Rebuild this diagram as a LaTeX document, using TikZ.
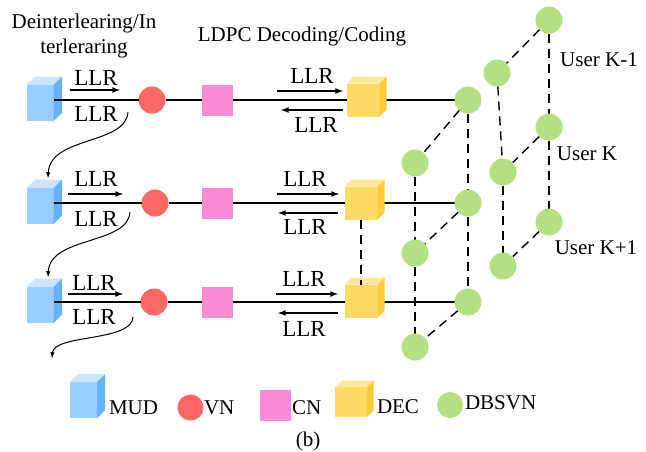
\documentclass[tikz,border=0pt]{standalone}
\usepackage{fontspec}
\setmainfont{Liberation Serif}
\usepackage{xcolor}
\usepackage{tikz}

\definecolor{mudfront}{HTML}{99CCFF}
\definecolor{mudside}{HTML}{66B2FF}
\definecolor{mudtop}{HTML}{CCE5FF}
\definecolor{vnred}{HTML}{FF6666}
\definecolor{cnpink}{HTML}{F98AD6}
\definecolor{decfront}{HTML}{FFD966}
\definecolor{decside}{HTML}{FFCC33}
\definecolor{dectop}{HTML}{FFE699}
\definecolor{dbsgreen}{HTML}{B3E083}

\pgfdeclarelayer{background}
\pgfsetlayers{background,main}

% top and side faces of a cube node
\newcommand{\cubefaces}[4]{%
  \fill[#3] (#1.north west) -- ([xshift=#2,yshift=#2]#1.north west)
    -- ([xshift=#2,yshift=#2]#1.north east) -- (#1.north east) -- cycle;
  \fill[#4] (#1.north east) -- ([xshift=#2,yshift=#2]#1.north east)
    -- ([xshift=#2,yshift=#2]#1.south east) -- (#1.south east) -- cycle;}

\begin{document}
\begin{tikzpicture}[
  x=1pt, y=-1pt,
  every node/.style={inner sep=0pt, outer sep=0pt, font=\fontsize{21}{24}\selectfont},
  llr/.style={font=\fontsize{23}{26}\selectfont},
  mud/.style={rectangle, fill=mudfront, minimum width=27pt, minimum height=36pt},
  vn/.style={circle, fill=vnred, minimum size=27pt},
  cn/.style={rectangle, fill=cnpink, minimum width=31pt, minimum height=31pt},
  dec/.style={rectangle, fill=decfront, minimum width=33pt, minimum height=33pt},
  dbs/.style={circle, fill=dbsgreen, minimum size=27pt},
  llrarrow/.style={-latex, line width=1.6pt},
  wave/.style={-latex, line width=1pt},
  link/.style={line width=1.4pt},
  dashlink/.style={line width=1.4pt, dash pattern=on 9pt off 6pt}
]
  \useasboundingbox (0,0) rectangle (646,451);

  % headings
  \node (head1) at (84,23) {Deinterlearing/In};
  \node (head2) at (84,48) {terleraring};
  \node (head3) at (302,36) {LDPC Decoding/Coding};

  % row 1
  \node[mud] (mud1) at (40,103) {};
  \cubefaces{mud1}{8.5pt}{mudtop}{mudside}
  \node[vn] (vn1) at (152,100) {};
  \node[cn] (cn1) at (217,100) {};
  \node[dec] (dec1) at (363,100) {};
  \cubefaces{dec1}{7pt}{dectop}{decside}

  % row 2
  \node[mud] (mud2) at (40,206) {};
  \cubefaces{mud2}{8.5pt}{mudtop}{mudside}
  \node[vn] (vn2) at (155,203) {};
  \node[cn] (cn2) at (217,203) {};
  \node[dec] (dec2) at (361,203) {};
  \cubefaces{dec2}{7pt}{dectop}{decside}

  % row 3
  \node[mud] (mud3) at (40,305) {};
  \cubefaces{mud3}{8.5pt}{mudtop}{mudside}
  \node[vn] (vn3) at (154,302) {};
  \node[cn] (cn3) at (217,302) {};
  \node[dec] (dec3) at (361,301) {};
  \cubefaces{dec3}{7pt}{dectop}{decside}

  % DBSVN of the users
  \node[dbs] (u1a) at (549,20) {};
  \node[dbs] (u1b) at (497,73) {};
  \node[dbs] (u1c) at (468,100) {};
  \node[dbs] (u1d) at (415,163) {};
  \node[dbs] (u2a) at (549,127) {};
  \node[dbs] (u2b) at (503,172) {};
  \node[dbs] (u2c) at (468,203) {};
  \node[dbs] (u2d) at (415,253) {};
  \node[dbs] (u3a) at (549,222) {};
  \node[dbs] (u3b) at (503,266) {};
  \node[dbs] (u3c) at (468,302) {};
  \node[dbs] (u3d) at (415,347) {};

  \node (userA) at (599,60) {User K-1};
  \node (userB) at (587,154) {User K};
  \node (userC) at (596,248) {User K+1};

  % row links
  \draw[link] (mud1.east |- vn1) -- (vn1);
  \draw[link] (mud2.east |- vn2) -- (vn2);
  \draw[link] (mud3.east |- vn3) -- (vn3);
  \begin{pgfonlayer}{background}
    \draw[link] (vn1) -- (cn1) -- (dec1.center) -- (u1c.center);
    \draw[link] (vn2) -- (cn2) -- (dec2.center) -- (u2c.center);
    \draw[link] (vn3) -- (cn3) -- (dec3.center |- u3c) -- (u3c.center);
    % depth and user links
    \draw[dashlink] (u1a) -- (u2a);
    \draw[dashlink] (u2a) -- (u3a);
    \draw[dashlink] (u1b) -- (u2b);
    \draw[dashlink] (u2b) -- (u3b);
    \draw[dashlink] (u1c) -- (u2c);
    \draw[dashlink] (u2c) -- (u3c);
    \draw[dashlink] (u1d) -- (u2d);
    \draw[dashlink] (u2d) -- (u3d);
    \draw[dashlink] (u1a) -- (u1b);
    \draw[dashlink] (u1c) -- (u1d);
    \draw[dashlink] (u2a) -- (u2b);
    \draw[dashlink] (u2c) -- (u2d);
    \draw[dashlink] (u3a) -- (u3b);
    \draw[dashlink] (u3c) -- (u3d);
  \end{pgfonlayer}
  \draw[dashlink] (dec2) -- (dec3);

  % LLR messages, row 1
  \node[llr] (l1a) at (96,78) {LLR};
  \node[llr] (l1b) at (96,114) {LLR};
  \coordinate (p1a) at (70,90);
  \coordinate (p1b) at (120,90);
  \draw[llrarrow] (p1a) -- (p1b);
  \node[llr] (l1c) at (312,76) {LLR};
  \node[llr] (l1d) at (316,125) {LLR};
  \coordinate (q1a) at (277,91);
  \coordinate (q1b) at (343,91);
  \coordinate (q1c) at (343,110);
  \coordinate (q1d) at (281,110);
  \draw[llrarrow] (q1a) -- (q1b);
  \draw[llrarrow] (q1c) -- (q1d);

  % LLR messages, row 2
  \node[llr] (l2a) at (96,179) {LLR};
  \node[llr] (l2b) at (96,219) {LLR};
  \coordinate (p2a) at (68,194);
  \coordinate (p2b) at (123,194);
  \draw[llrarrow] (p2a) -- (p2b);
  \node[llr] (l2c) at (305,179) {LLR};
  \node[llr] (l2d) at (305,227) {LLR};
  \coordinate (q2a) at (277,194);
  \coordinate (q2b) at (339,194);
  \coordinate (q2c) at (338,213);
  \coordinate (q2d) at (278,213);
  \draw[llrarrow] (q2a) -- (q2b);
  \draw[llrarrow] (q2c) -- (q2d);

  % LLR messages, row 3
  \node[llr] (l3a) at (94,283) {LLR};
  \node[llr] (l3b) at (94,317) {LLR};
  \coordinate (p3a) at (68,294);
  \coordinate (p3b) at (123,294);
  \draw[llrarrow] (p3a) -- (p3b);
  \node[llr] (l3c) at (304,279) {LLR};
  \node[llr] (l3d) at (304,329) {LLR};
  \coordinate (q3a) at (276,294);
  \coordinate (q3b) at (338,294);
  \coordinate (q3c) at (338,313);
  \coordinate (q3d) at (278,313);
  \draw[llrarrow] (q3a) -- (q3b);
  \draw[llrarrow] (q3c) -- (q3d);

  % passing on to the next stage
  \coordinate (w1) at (128,112);
  \coordinate (w2) at (130,212);
  \coordinate (w3) at (133,317);
  \coordinate (w4) at (52,358);
  \draw[wave] (w1) .. controls (126,145) and (50,136) .. ([xshift=8pt,yshift=10pt]mud2.north);
  \draw[wave] (w2) .. controls (128,245) and (50,236) .. ([xshift=8pt,yshift=10pt]mud3.north);
  \draw[wave] (w3) .. controls (132,342) and (54,334) .. (w4);

  % legend
  \node[mud, minimum width=27pt] (kmud) at (83.5,400) {};
  \cubefaces{kmud}{8pt}{mudtop}{mudside}
  \node[anchor=west] (tmud) at (109,408) {MUD};
  \node[vn, minimum size=26pt] (kvn) at (190.5,407.5) {};
  \node[anchor=west] (tvn) at (204,408) {VN};
  \node[cn] (kcn) at (275.5,405.5) {};
  \node[anchor=west] (tcn) at (292,408) {CN};
  \node[dec, minimum width=32pt, minimum height=30pt] (kdec) at (351,402) {};
  \cubefaces{kdec}{6.5pt}{dectop}{decside}
  \node[anchor=west] (tdec) at (377,407) {DEC};
  \node[dbs, minimum size=26pt] (kdbs) at (450,405) {};
  \node[anchor=west] (tdbs) at (465,403) {DBSVN};
  \node (caption) at (308,441) {(b)};
\end{tikzpicture}
\end{document}
